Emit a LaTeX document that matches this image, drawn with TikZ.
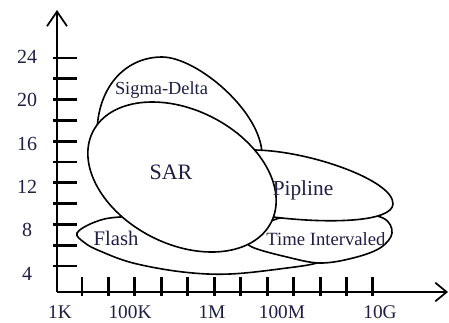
\documentclass[tikz,border=0pt]{standalone}
\usepackage{fontspec}
\setmainfont{Liberation Serif}
\usetikzlibrary{arrows.meta}
\definecolor{txt}{HTML}{1E1E46}
\begin{document}
\begin{tikzpicture}[x=0.75pt,y=-0.75pt,
  region/.style={draw=black, line width=1.2pt, fill=white},
  axisline/.style={line width=1.3pt},
  tickmark/.style={line width=2.2pt},
  lab/.style={text=txt, inner sep=0pt, anchor=base},
  ylab/.style={lab, font=\fontsize{15}{15}\selectfont},
  xlab/.style={lab, font=\fontsize{14.5}{14.5}\selectfont},
]
\useasboundingbox (0,0) rectangle (449,322);

% Flash
\draw[region] plot[smooth cycle, tension=0.6] coordinates {(77,233) (85,243) (100,251) (133,263) (183,272) (230,274) (287,268) (317,263) (335,255) (320,238) (250,228) (180,216) (120,217) (95,222)};
% Sigma-Delta
\draw[region] (97,140) .. controls (95,88) and (125,57) .. (162,57)
  .. controls (197,57) and (262,112) .. (262,155)
  -- (258,180) -- (200,175) -- (110,150) -- cycle;
% Time Intervaled
\draw[region] plot[smooth cycle, tension=0.6] coordinates {(252,247) (287,257) (320,263) (353,258) (380,248) (392,233) (383,218) (350,213) (300,213) (262,225) (248,238)};
% Pipline
\draw[region] (250,150) .. controls (305,149) and (394,180) .. (393,204)
  .. controls (392,222) and (330,224) .. (273,217)
  .. controls (250,214) and (235,190) .. (240,170)
  .. controls (243,156) and (245,150) .. cycle;
% SAR
\draw[region, rotate around={-27:(182,177)}] (182,177) ellipse (100 and 67);

% labels
\node[lab, font=\fontsize{13.8}{13.8}\selectfont] (sd) at (161.5,94.5) {Sigma-Delta};
\node[lab, font=\fontsize{16.5}{16.5}\selectfont] (sar) at (171,179) {SAR};
\node[lab, font=\fontsize{16}{16}\selectfont] (pip) at (303,195) {Pipline};
\node[lab, font=\fontsize{14}{14}\selectfont] (ti) at (326,245) {Time Intervaled};
\node[lab, font=\fontsize{15.5}{15.5}\selectfont] (fl) at (116,245.5) {Flash};

% axes
\coordinate (O) at (57,292);
\coordinate (Ytop) at (57,10);
\coordinate (Xend) at (448,292);
\draw[axisline, -{Straight Barb[length=11pt,width=15pt]}] (O) -- (Ytop);
\draw[axisline, -{Straight Barb[length=8.5pt,width=14pt]}] (O) -- (Xend);
\foreach \k in {0,...,10} \draw[tickmark] (53,{58+20.8*\k}) -- (77,{58+20.8*\k});
\foreach \k in {0,...,11} \draw[tickmark] ({82+26.45*\k},277) -- ({82+26.45*\k},296);

% axis labels
\node[ylab] (y24) at (27,63.5) {24};
\node[ylab] (y20) at (27,106.8) {20};
\node[ylab] (y16) at (27,150.1) {16};
\node[ylab] (y12) at (27,193.4) {12};
\node[ylab] (y8) at (27,236.7) {8};
\node[ylab] (y4) at (27,280) {4};
\node[xlab] (x1k) at (60,318) {1K};
\node[xlab] (x100k) at (130,318) {100K};
\node[xlab] (x1m) at (212,318) {1M};
\node[xlab] (x100m) at (282,318) {100M};
\node[xlab] (x10g) at (380,318) {10G};
\end{tikzpicture}
\end{document}
